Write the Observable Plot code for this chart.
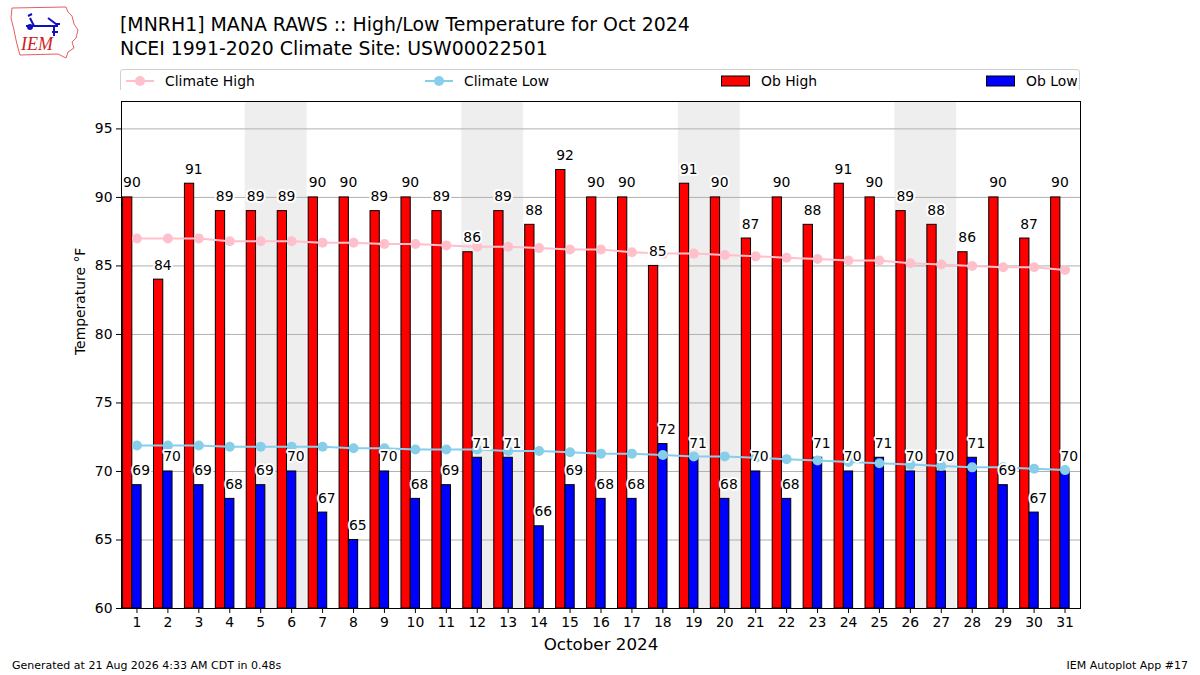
<!DOCTYPE html>
<html>
<head>
<meta charset="utf-8">
<script src="https://cdn.jsdelivr.net/npm/d3@7"></script>
<script src="https://cdn.jsdelivr.net/npm/@observablehq/plot@0.6"></script>
<style>
  html, body { margin: 0; padding: 0; background: #fff; }
  body { font-family: "DejaVu Sans", sans-serif; color: #000; }
  #page { position: relative; width: 1200px; height: 675px; overflow: hidden; }
  .abs { position: absolute; white-space: nowrap; }
  #title { left: 120px; top: 13px; font-size: 18.9px; line-height: 23.5px; }
  #legend { left: 120px; top: 69px; width: 958px; height: 25px; border: 1px solid #d0d0d0; border-radius: 3px; background: #fff; }
  .leg { position: absolute; top: -2px; height: 25px; display: flex; align-items: center; font-size: 13.9px; }
  .leg span { margin-left: 10px; }
  #chart { left: 0; top: 90px; }
  #footL { left: 12px; top: 659px; font-size: 11px; }
  #footR { right: 12px; top: 659px; font-size: 11px; }
</style>
</head>
<body>
<div id="page">
  <svg class="abs" style="left:8px;top:4px" width="74" height="56" viewBox="0 0 74 56">
    <path d="M4,4 L58,3 L60,8 L64,12 L66,20 L70,26 L68,34 L64,38 L66,44 L60,48 L58,54 L50,50 L12,51 L10,44 L8,36 L6,26 L3,14 Z" fill="none" stroke="#e06060" stroke-width="1"/>
    <g stroke="#1010c0" stroke-width="2" fill="none">
      <path d="M18,22 L50,22"/>
      <path d="M22,14 L26,22 M20,12 L24,10"/>
      <path d="M40,14 L48,20 L52,20"/>
      <path d="M46,22 L46,32 M44,28 L50,28"/>
    </g>
    <circle cx="22" cy="23" r="3" fill="#1010c0"/>
    <text x="13" y="46" font-family="Liberation Serif, serif" font-style="italic" font-size="18" fill="#d02020">IEM</text>
  </svg>
  <div id="title" class="abs">[MNRH1] MANA RAWS :: High/Low Temperature for Oct 2024<br>NCEI 1991-2020 Climate Site: USW00022501</div>
  <div id="legend" class="abs">
    <div class="leg" style="left:4px"><svg width="30" height="12"><line x1="1" y1="6" x2="29" y2="6" stroke="pink" stroke-width="2"/><circle cx="15" cy="6" r="5" fill="pink"/></svg><span>Climate High</span></div>
    <div class="leg" style="left:303px"><svg width="30" height="12"><line x1="1" y1="6" x2="29" y2="6" stroke="skyblue" stroke-width="2"/><circle cx="15" cy="6" r="5" fill="skyblue"/></svg><span>Climate Low</span></div>
    <div class="leg" style="left:600px"><svg width="30" height="12"><rect x="0.5" y="1" width="28" height="10" fill="red" stroke="black" stroke-width="1"/></svg><span>Ob High</span></div>
    <div class="leg" style="left:865px"><svg width="30" height="12"><rect x="0.5" y="1" width="28" height="10" fill="blue" stroke="black" stroke-width="1"/></svg><span>Ob Low</span></div>
  </div>
  <div id="chart" class="abs"></div>
  <div id="footL" class="abs">Generated at 21 Aug 2026 4:33 AM CDT in 0.48s</div>
  <div id="footR" class="abs">IEM Autoplot App #17</div>
</div>
<script>
const days = [1,2,3,4,5,6,7,8,9,10,11,12,13,14,15,16,17,18,19,20,21,22,23,24,25,26,27,28,29,30,31];
const obHigh = [90,84,91,89,89,89,90,90,89,90,89,86,89,88,92,90,90,85,91,90,87,90,88,91,90,89,88,86,90,87,90];
const obLow = [69,70,69,68,69,70,67,65,70,68,69,71,71,66,69,68,68,72,71,68,70,68,71,70,71,70,70,71,69,67,70];
const climHigh = [87.0,87.0,87.0,86.8,86.8,86.8,86.7,86.7,86.6,86.6,86.5,86.4,86.4,86.3,86.2,86.2,86.0,85.9,85.9,85.8,85.7,85.6,85.5,85.4,85.4,85.2,85.1,85.0,84.9,84.9,84.7];
const climLow = [71.9,71.9,71.9,71.8,71.8,71.8,71.8,71.7,71.7,71.6,71.6,71.6,71.5,71.5,71.4,71.3,71.3,71.2,71.1,71.1,71.0,70.9,70.8,70.7,70.6,70.5,70.4,70.3,70.3,70.2,70.1];
const weekendStarts = [5,12,19,26];
const yTicks = [60,65,70,75,80,85,90,95];

const rows = days.map((d, i) => ({day: d, high: obHigh[i], low: obLow[i], ch: climHigh[i], cl: climLow[i]}));
const FS = 13.9;

const chart = Plot.plot({
  width: 1200,
  height: 518,
  marginLeft: 121,
  marginRight: 120,
  marginTop: 11,
  marginBottom: 0,
  style: {fontFamily: "DejaVu Sans, sans-serif", background: "white", overflow: "visible", color: "black"},
  x: {domain: [0.5, 31.5], axis: null},
  y: {domain: [60, 97], axis: null},
  marks: [
    Plot.rect(weekendStarts, {x1: d => d - 0.5, x2: d => d + 1.5, y1: 60, y2: 97, fill: "#eeeeee"}),
    Plot.ruleY(yTicks, {stroke: "#b0b0b0", strokeWidth: 1}),
    Plot.rect(rows, {x1: d => d.day - 0.45, x2: d => d.day - 0.15, y1: 60, y2: "high", fill: "red", stroke: "black", strokeWidth: 1}),
    Plot.rect(rows, {x1: d => d.day - 0.15, x2: d => d.day + 0.15, y1: 60, y2: "low", fill: "blue", stroke: "black", strokeWidth: 1}),
    Plot.line(rows, {x: "day", y: "ch", stroke: "pink", strokeWidth: 2}),
    Plot.dot(rows, {x: "day", y: "ch", r: 5, fill: "pink"}),
    Plot.line(rows, {x: "day", y: "cl", stroke: "skyblue", strokeWidth: 2}),
    Plot.dot(rows, {x: "day", y: "cl", r: 5, fill: "skyblue"}),
    Plot.text(rows, {x: d => d.day - 0.45, y: "high", text: d => String(d.high), textAnchor: "start", lineAnchor: "bottom", dy: -10, fontSize: FS, fill: "black", stroke: "white", strokeWidth: 4}),
    Plot.text(rows, {x: d => d.day - 0.15, y: "low", text: d => String(d.low), textAnchor: "start", lineAnchor: "bottom", dy: -10, fontSize: FS, fill: "black", stroke: "white", strokeWidth: 4}),
    Plot.frame({stroke: "black", strokeWidth: 1}),
    Plot.axisX({ticks: days, tickFormat: d => String(d), tickSize: 5, tickPadding: 4, fontSize: FS, label: null, anchor: "bottom"}),
    Plot.axisY({ticks: yTicks, tickFormat: d => String(d), tickSize: 5, tickPadding: 4, fontSize: FS, label: null, anchor: "left"}),
    Plot.text(["October 2024"], {frameAnchor: "bottom", text: d => d, dy: 41, fontSize: 16.7, fill: "black"}),
    Plot.text(["Temperature °F"], {frameAnchor: "left", text: d => d, rotate: -90, dx: -41, fontSize: FS, fill: "black"})
  ]
});
document.getElementById("chart").appendChild(chart);
</script>
</body>
</html>
